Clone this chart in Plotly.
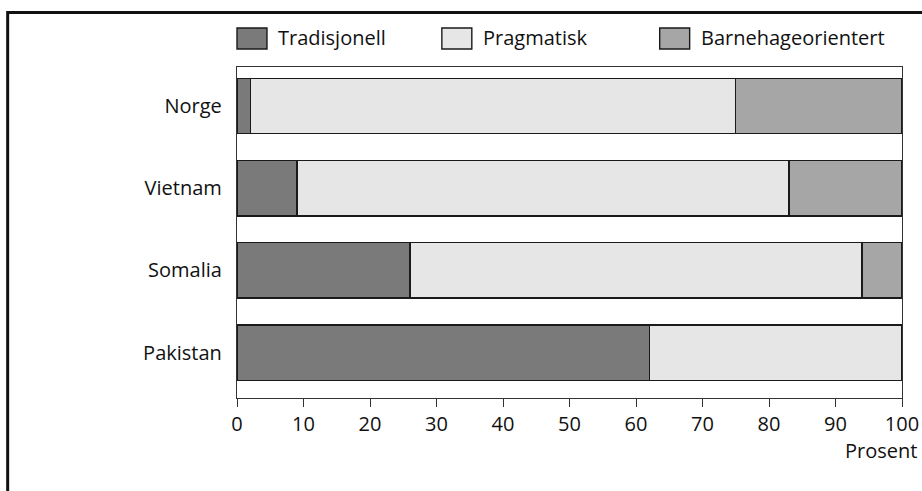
import plotly.graph_objects as go

countries = ["Norge", "Vietnam", "Somalia", "Pakistan"]
tradisjonell = [2, 9, 26, 62]
pragmatisk = [73, 74, 68, 38]
barnehage = [25, 17, 6, 0]
series_names = ["Tradisjonell", "Pragmatisk", "Barnehageorientert"]
series_colors = ["#7a7a7a", "#e6e6e6", "#a6a6a6"]
x_ticks = [0, 10, 20, 30, 40, 50, 60, 70, 80, 90, 100]

W, H = 922, 491
PL, PR, PT, PB = 237, 902.5, 67, 398  # plot area in page pixels
L, R, T, B = PL, W - PR, PT, H - PB

def px(xp):
    return (xp - PL) / (PR - PL)

def py(yp):
    return (PB - yp) / (PB - PT)

FONT = "Open Sans"
FS = 20
fig = go.Figure()
for name, vals, col in zip(series_names, [tradisjonell, pragmatisk, barnehage], series_colors):
    fig.add_trace(go.Bar(
        y=countries, x=vals, name=name, orientation="h",
        marker=dict(color=col, line=dict(color="#1a1a1a", width=1.4)),
        width=0.675, showlegend=False,
    ))

shapes = []
annotations = []
# outer frame
shapes.append(dict(type="rect", xref="paper", yref="paper",
                   x0=px(7.5), x1=px(940), y0=py(520), y1=py(12.5),
                   line=dict(color="#111", width=3), fillcolor="rgba(0,0,0,0)", layer="above"))
# legend
leg_box_x = [237, 442, 660]
for bx, name, col in zip(leg_box_x, series_names, series_colors):
    shapes.append(dict(type="rect", xref="paper", yref="paper",
                       x0=px(bx), x1=px(bx + 30), y0=py(49), y1=py(28),
                       line=dict(color="#1a1a1a", width=1.4), fillcolor=col))
    annotations.append(dict(xref="paper", yref="paper", x=px(bx + 39), y=py(37),
                            text=name, showarrow=False, xanchor="left", yanchor="middle",
                            font=dict(family=FONT, size=FS, color="#111")))
annotations.append(dict(xref="paper", yref="paper", x=px(920), y=py(450),
                        text="Prosent", showarrow=False, xanchor="right", yanchor="middle",
                        font=dict(family=FONT, size=FS, color="#111")))

fig.update_layout(
    width=W, height=H, barmode="stack",
    margin=dict(l=L, r=R, t=T, b=B, autoexpand=False),
    paper_bgcolor="white", plot_bgcolor="white",
    shapes=shapes, annotations=annotations,
    font=dict(family=FONT, size=FS, color="#111"),
    xaxis=dict(range=[0, 100], tickvals=x_ticks, ticks="outside", ticklen=8,
               tickcolor="#333", showgrid=False, zeroline=False, showline=True,
               linecolor="#333", linewidth=1.3, mirror=True, automargin=False,
               tickfont=dict(family=FONT, size=FS, color="#111")),
    yaxis=dict(categoryorder="array", categoryarray=countries,
               range=[3.553, -0.474], showgrid=False, zeroline=False, showline=True,
               linecolor="#333", linewidth=1.3, mirror=True, ticks="", automargin=False,
               ticklabelstandoff=10, tickfont=dict(family=FONT, size=FS, color="#111")),
)
fig.write_html(
    "out.html",
    config={"displayModeBar": False},
    post_script="document.body.style.margin='0';document.body.style.overflow='hidden';",
)
